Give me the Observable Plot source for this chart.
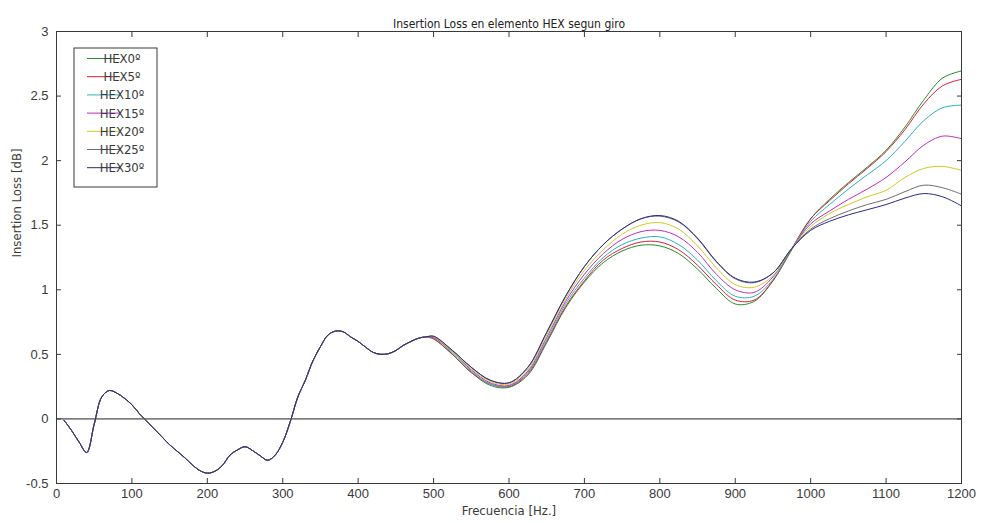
<!DOCTYPE html>
<html><head><meta charset="utf-8">
<script src="https://cdn.jsdelivr.net/npm/d3@7"></script>
<script src="https://cdn.jsdelivr.net/npm/@observablehq/plot@0.6"></script>
<style>
body{margin:0;background:#fff;}
#chart svg{display:block;}
</style></head><body><div id="chart"></div>
<script>
const titleText = "Insertion Loss en elemento HEX segun giro";
const xLabelText = "Frecuencia [Hz.]";
const yLabelText = "Insertion Loss [dB]";
const series = ["HEX0º","HEX5º","HEX10º","HEX15º","HEX20º","HEX25º","HEX30º"];
const colors = ["#2a8c2a","#d6213c","#2ab3bf","#c22bc2","#cccc22","#6e6e6e","#28288c"];
const xTicks = [0,100,200,300,400,500,600,700,800,900,1000,1100,1200];
const yTicks = [-0.5,0,0.5,1,1.5,2,2.5,3];

// shared low-frequency part (all curves coincide)
const freqCommon = [10,20,30,40,50,60,70,80,90,100,110,120,130,140,150,160,170,180,190,200,210,220,230,240,250,260,270,280,290,300,310,320,330,340,350,360,370,380,390,400,410,420,430,440,450,460,470,480,490];
const valCommon = [-0.01,-0.09,-0.18,-0.26,-0.04,0.17,0.22,0.20,0.16,0.11,0.04,-0.02,-0.08,-0.14,-0.20,-0.25,-0.30,-0.355,-0.40,-0.42,-0.405,-0.36,-0.28,-0.24,-0.215,-0.245,-0.285,-0.32,-0.28,-0.18,-0.02,0.17,0.30,0.45,0.56,0.65,0.68,0.675,0.635,0.60,0.555,0.515,0.50,0.505,0.53,0.57,0.60,0.625,0.635];

// per-angle part
const freqSplit = [500,525,550,575,600,625,650,675,700,725,750,775,800,825,850,875,900,925,950,975,1000,1025,1050,1075,1100,1125,1150,1175,1200];
const hex0  = [0.62,0.50,0.36,0.26,0.245,0.34,0.59,0.86,1.06,1.21,1.30,1.345,1.34,1.28,1.16,1.01,0.89,0.91,1.07,1.31,1.55,1.70,1.83,1.95,2.08,2.26,2.47,2.64,2.695];
const hex5  = [0.62,0.50,0.36,0.27,0.25,0.35,0.60,0.87,1.07,1.23,1.32,1.37,1.37,1.31,1.19,1.04,0.92,0.92,1.07,1.32,1.55,1.69,1.82,1.94,2.07,2.24,2.44,2.58,2.63];
const hex10 = [0.63,0.51,0.37,0.27,0.255,0.36,0.61,0.89,1.09,1.25,1.35,1.40,1.41,1.35,1.23,1.07,0.95,0.95,1.08,1.32,1.53,1.66,1.78,1.89,2.00,2.15,2.31,2.41,2.43];
const hex15 = [0.63,0.52,0.38,0.28,0.26,0.37,0.63,0.91,1.12,1.28,1.39,1.45,1.46,1.41,1.29,1.12,1.00,0.98,1.10,1.32,1.51,1.61,1.70,1.78,1.87,1.99,2.12,2.19,2.17];
const hex20 = [0.635,0.52,0.39,0.29,0.27,0.385,0.65,0.93,1.15,1.31,1.43,1.50,1.52,1.47,1.34,1.17,1.04,1.02,1.11,1.32,1.49,1.59,1.66,1.72,1.77,1.87,1.94,1.955,1.925];
const hex25 = [0.64,0.53,0.40,0.30,0.28,0.40,0.67,0.95,1.18,1.35,1.47,1.55,1.57,1.525,1.395,1.215,1.085,1.055,1.13,1.32,1.47,1.55,1.61,1.66,1.70,1.76,1.81,1.79,1.74];
const hex30 = [0.64,0.53,0.40,0.30,0.28,0.40,0.67,0.95,1.18,1.35,1.47,1.55,1.575,1.53,1.40,1.22,1.09,1.06,1.13,1.32,1.46,1.53,1.58,1.62,1.66,1.71,1.745,1.72,1.65];
const splitValues = [hex0,hex5,hex10,hex15,hex20,hex25,hex30];

const data = [];
series.forEach((s, i) => {
  freqCommon.forEach((f, j) => data.push({s, f, v: valCommon[j]}));
  freqSplit.forEach((f, j) => data.push({s, f, v: splitValues[i][j]}));
});

const NARROW = "'Liberation Sans Narrow','DejaVu Sans Condensed','Liberation Sans',Arial,sans-serif";
const SANS = "'Liberation Sans',Arial,Helvetica,sans-serif";

const plot = Plot.plot({
  width: 981, height: 523,
  marginLeft: 56, marginRight: 20, marginTop: 31, marginBottom: 40,
  style: {fontFamily: SANS, fontSize: "13px", color: "#3a3a3a", background: "#fff", overflow: "visible"},
  x: {domain: [0, 1200]},
  y: {domain: [-0.5, 3]},
  color: {domain: series, range: colors},
  marks: [
    Plot.ruleY([0], {stroke: "#222", strokeWidth: 1}),
    Plot.line(data, {x: "f", y: "v", stroke: "s", z: "s", curve: "catmull-rom", strokeWidth: 1}),
    Plot.frame({stroke: "#3a3a3a"}),
    Plot.axisX(xTicks, {anchor: "bottom", tickSize: -5, tickPadding: 10, tickFormat: d => String(d), label: null, fontSize: 13}),
    Plot.axisX(xTicks, {anchor: "top", tickSize: -5, tickFormat: () => "", label: null}),
    Plot.axisY(yTicks, {anchor: "left", tickSize: -5, tickPadding: 13, tickFormat: d => String(d), label: null, fontSize: 13}),
    Plot.axisY(yTicks, {anchor: "right", tickSize: -5, tickFormat: () => "", label: null}),
    Plot.text([titleText], {frameAnchor: "top", dy: -12, fill: "#222", fontSize: 12, fontFamily: NARROW}),
    Plot.text([xLabelText], {frameAnchor: "bottom", dy: 31, fill: "#3a3a3a", fontSize: 13, fontFamily: NARROW}),
    Plot.text([yLabelText], {frameAnchor: "left", dx: -40, rotate: -90, fill: "#3a3a3a", fontSize: 13, fontFamily: NARROW})
  ]
});

// legend box (MATLAB style, inside the axes)
const svg = d3.select(plot);
const lg = svg.append("g").attr("font-family", NARROW).attr("font-size", 13);
const lx = 74, ly = 48, rowH = 18.2;
lg.append("rect").attr("x", lx).attr("y", ly).attr("width", 83).attr("height", 139)
  .attr("fill", "#fff").attr("stroke", "#3a3a3a");
series.forEach((s, i) => {
  const y = ly + 10.5 + i * rowH;
  lg.append("line").attr("x1", lx + 13).attr("x2", lx + 46).attr("y1", y).attr("y2", y)
    .attr("stroke", colors[i]).attr("stroke-width", 1);
  lg.append("text").attr("x", lx + 48).attr("y", y).attr("dy", "0.35em")
    .attr("fill", "#3a3a3a").text(s);
});

document.getElementById("chart").appendChild(plot);
</script>
</body></html>
